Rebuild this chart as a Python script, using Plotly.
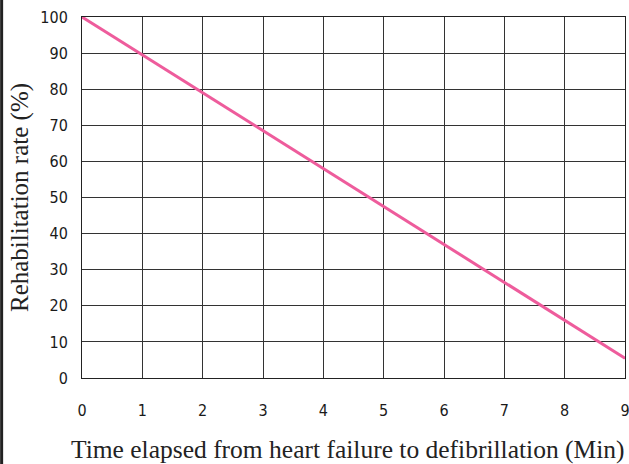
import plotly.graph_objects as go

minutes = [0, 1, 2, 3, 4, 5, 6, 7, 8, 9]
rate = [100, 89.5, 79, 68.5, 58, 47.5, 37, 26.5, 16, 5.5]
x_ticks = [0, 1, 2, 3, 4, 5, 6, 7, 8, 9]
y_ticks = [0, 10, 20, 30, 40, 50, 60, 70, 80, 90, 100]
x_title = "Time elapsed from heart failure to defibrillation (Min)"
y_title = "Rehabilitation rate (%)"

tick_font = dict(family="DejaVu Sans Condensed, Liberation Sans", size=16, color="#1a1a1a")
title_font = dict(family="Liberation Serif, Times New Roman", size=25, color="#222")

fig = go.Figure()
fig.add_trace(go.Scatter(x=minutes, y=rate, mode="lines",
                         line=dict(color="#EE5C9C", width=3), showlegend=False))

fig.update_layout(
    width=629, height=464,
    margin=dict(l=82, r=4, t=17, b=86),
    paper_bgcolor="white", plot_bgcolor="white",
    xaxis=dict(range=[0, 9], tickvals=x_ticks, showgrid=True, gridcolor="#333", gridwidth=1,
               showline=True, linecolor="#222", linewidth=1, mirror=True, zeroline=False,
               ticks="", ticklabelstandoff=18, automargin=False, tickfont=tick_font,
               ticklabeloverflow="allow"),
    yaxis=dict(range=[0, 100], tickvals=y_ticks, showgrid=True, gridcolor="#333", gridwidth=1,
               showline=True, linecolor="#222", linewidth=1, mirror=True, zeroline=False,
               ticks="", ticklabelstandoff=10, automargin=False, tickfont=tick_font,
               ticklabeloverflow="allow",
               title=dict(text=y_title, font=title_font, standoff=4)),
)
fig.add_annotation(text=x_title, xref="paper", yref="paper", x=0.489, y=0,
                   xanchor="center", yanchor="bottom", yshift=-88, showarrow=False,
                   font=dict(family="Liberation Serif, Times New Roman", size=25.5, color="#222"))
fig.add_shape(type="line", xref="paper", yref="paper", x0=-0.148, x1=-0.148, y0=-0.3, y1=1.1,
              line=dict(color="#222", width=3))
fig.write_html("out.html", config={"displayModeBar": False},
               post_script="document.body.style.margin='0';")
